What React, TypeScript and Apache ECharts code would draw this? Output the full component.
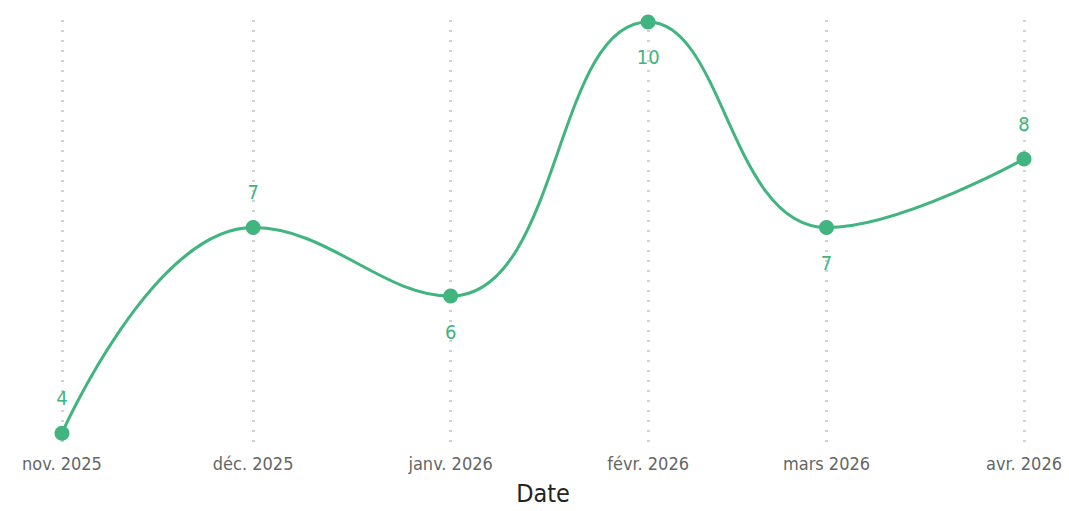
import React, { useEffect, useRef } from "react";
import * as echarts from "echarts";

const dates = ["2025-11-01", "2025-12-01", "2026-01-01", "2026-02-01", "2026-03-01", "2026-04-01"];
const values = [4, 7, 6, 10, 7, 8];
const labelPositions = ["top", "top", "bottom", "bottom", "bottom", "top"];
const monthNames = ["janv.", "févr.", "mars", "avr.", "mai", "juin", "juil.", "août", "sept.", "oct.", "nov.", "déc."];
const axisName = "Date";

const GREEN = "#41B47F";
const FONT = "'DejaVu Sans Condensed', 'DejaVu Sans', sans-serif";

export default function App() {
  const ref = useRef<HTMLDivElement>(null);
  useEffect(() => {
    const chart = echarts.init(ref.current!, null, { renderer: "svg" });
    const ts = dates.map((d) => new Date(d + "T00:00:00").getTime());
    chart.setOption({
      animation: false,
      grid: { left: 62, right: 45, top: 20, bottom: 61, containLabel: false },
      xAxis: {
        type: "time",
        min: ts[0],
        max: ts[ts.length - 1],
        splitNumber: 5,
        name: axisName,
        nameLocation: "middle",
        nameGap: 36,
        nameTextStyle: { fontFamily: FONT, fontSize: 25, color: "#252423" },
        axisLine: { show: false },
        axisTick: { show: false },
        axisLabel: {
          fontFamily: FONT,
          fontSize: 18,
          color: "#666666",
          margin: 9,
          showMinLabel: true,
          showMaxLabel: true,
          formatter: (v: number) => {
            const d = new Date(v);
            return monthNames[d.getMonth()] + " " + d.getFullYear();
          },
        },
        splitLine: { show: true, lineStyle: { type: [2, 8], color: "#D2D2D2", width: 3 } },
      },
      yAxis: {
        type: "value",
        min: 3.827,
        max: 10.029,
        show: false,
        splitLine: { show: false },
      },
      series: [
        {
          type: "line",
          smooth: 0.45,
          symbol: "circle",
          symbolSize: 15,
          itemStyle: { color: GREEN },
          lineStyle: { color: GREEN, width: 3 },
          data: ts.map((t, i) => ({
            value: [t, values[i]],
            label: {
              show: true,
              position: labelPositions[i],
              distance: 18,
              color: GREEN,
              fontFamily: FONT,
              fontSize: 20,
            },
          })),
        },
      ],
    });
    return () => chart.dispose();
  }, []);
  return (
    <div
      ref={ref}
      style={{ position: "absolute", left: 0, top: 0, width: 1069, height: 511 }}
    />
  );
}
